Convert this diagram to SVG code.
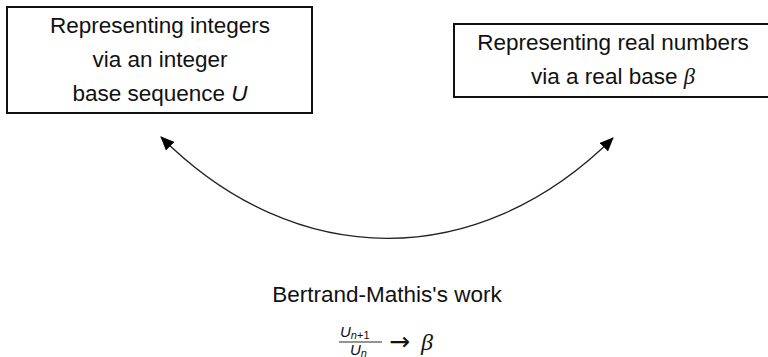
<svg xmlns="http://www.w3.org/2000/svg" width="768" height="357" viewBox="0 0 768 357">
<style>
  .box { fill: #ffffff; stroke: #111111; stroke-width: 2; }
  .t { font-family: "Liberation Sans", "DejaVu Sans", sans-serif; font-size: 22.5px; fill: #111111; text-anchor: middle; }
  .mi { font-style: italic; }
  .greek { font-family: "Liberation Serif", "DejaVu Serif", serif; font-style: italic; }
  .m { font-family: "Liberation Sans", "DejaVu Sans", sans-serif; fill: #111111; }
  .conn { fill: none; stroke: #222222; stroke-width: 1.3; }
</style>
<defs>
  <marker id="arrow" viewBox="0 0 14 12" refX="13" refY="6" markerWidth="14" markerHeight="12" markerUnits="userSpaceOnUse" orient="auto-start-reverse">
    <path d="M0,0 L14,6 L0,12 Z" fill="#000000"/>
  </marker>
</defs>
<rect width="768" height="357" fill="#ffffff"/>

<g id="node-integers">
  <rect class="box" x="7" y="7" width="305" height="106"/>
  <text class="t" x="160" y="33">Representing integers</text>
  <text class="t" x="160" y="67">via an integer</text>
  <text class="t" x="160" y="101">base sequence <tspan class="mi">U</tspan></text>
</g>

<g id="node-reals">
  <rect class="box" x="454" y="24" width="320" height="73"/>
  <text class="t" x="613" y="50">Representing real numbers</text>
  <text class="t" x="613" y="84">via a real base <tspan class="greek">β</tspan></text>
</g>

<g id="connectors">
  <path class="conn" d="M161,137 C296,272 478,272 613,138" marker-start="url(#arrow)" marker-end="url(#arrow)"/>
</g>

<g id="node-bertrand">
  <text class="t" x="387" y="302">Bertrand-Mathis's work</text>
  <text class="m" x="340" y="337" font-size="15"><tspan font-style="italic">U</tspan><tspan font-size="11" font-style="italic" dy="2">n</tspan><tspan font-size="11" dy="0">+1</tspan></text>
  <line x1="339" y1="342" x2="382" y2="342" stroke="#111111" stroke-width="0.9"/>
  <text class="m" x="350" y="355" font-size="15"><tspan font-style="italic">U</tspan><tspan font-size="11" font-style="italic" dy="2">n</tspan></text>
  <text x="389" y="350" font-family="DejaVu Sans, sans-serif" font-size="25" fill="#111111">→</text>
  <text x="421" y="350" font-family="Liberation Serif, DejaVu Serif, serif" font-style="italic" font-size="24" fill="#111111">β</text>
</g>
</svg>
